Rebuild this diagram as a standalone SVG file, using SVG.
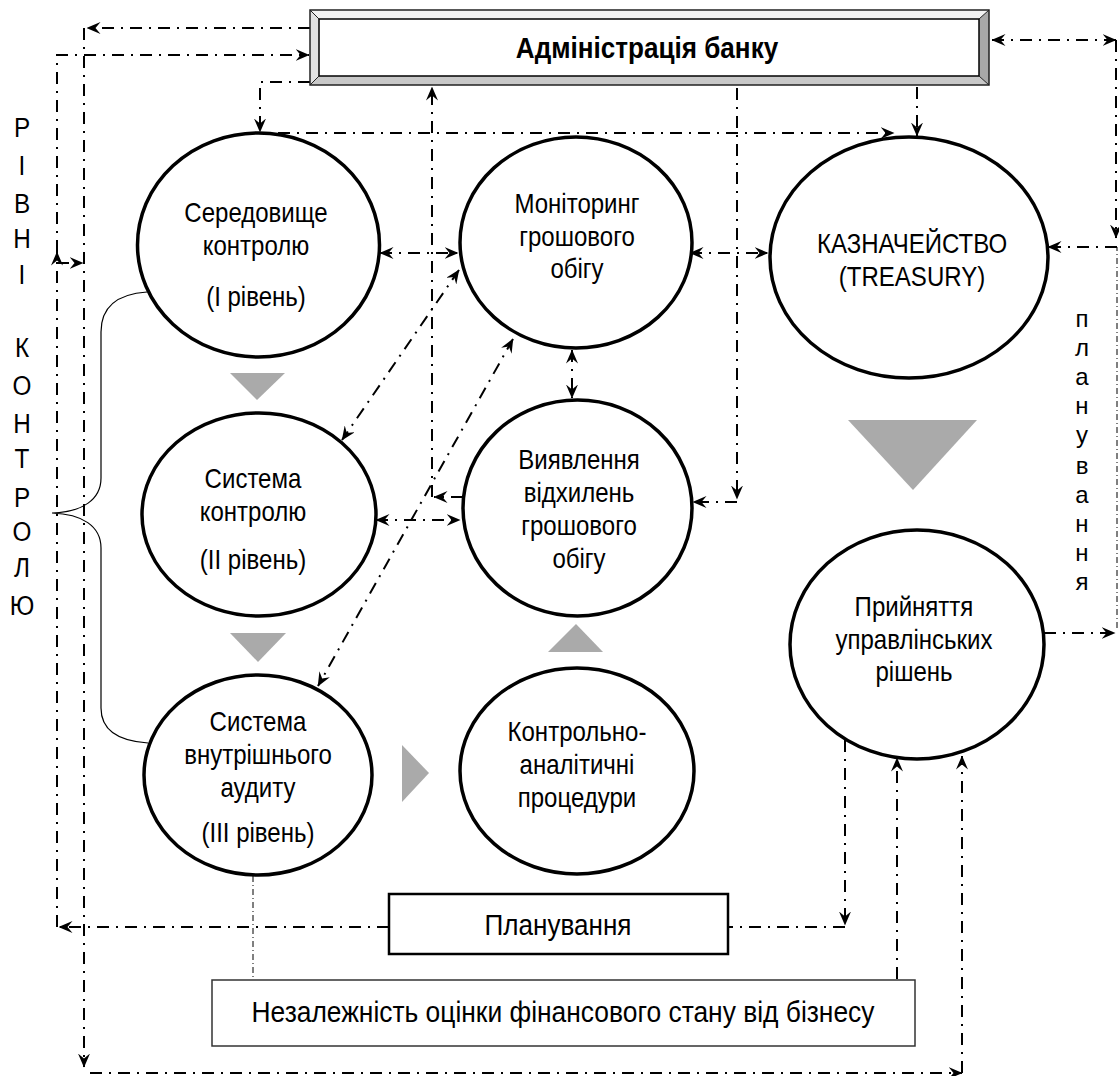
<svg xmlns="http://www.w3.org/2000/svg" width="1119" height="1076" viewBox="0 0 1119 1076">
<style>
.c{fill:#fff;stroke:#000;stroke-width:3.5}
.t{font-family:"Liberation Sans",Arial,sans-serif;font-size:27px;text-anchor:middle;fill:#000}
.v{font-family:"Liberation Sans",Arial,sans-serif;font-size:27px;text-anchor:middle;fill:#000}
.w{font-family:"Liberation Sans",Arial,sans-serif;font-size:24px;text-anchor:middle;fill:#000}
.l{fill:none;stroke:#000;stroke-width:2;stroke-dasharray:12 7 2 7}
.th{fill:none;stroke:#000;stroke-width:1;stroke-dasharray:6 3 1 3}
.tri{fill:#aaaaaa}
.br{fill:none;stroke:#000;stroke-width:1.2}
</style>
<defs>
<marker id="ah" viewBox="0 0 14 12" refX="13.5" refY="6" markerWidth="14" markerHeight="12" markerUnits="userSpaceOnUse" orient="auto-start-reverse">
<path d="M0,0 L14,6 L0,12 L5,6 z" fill="#000"/>
</marker>
</defs>
<rect width="1119" height="1076" fill="#fff"/>

<g id="labels-left" transform="matrix(0.9,0,0,1,2.2,0)">
<text class="v" x="22" y="137">Р</text>
<text class="v" x="22" y="175">І</text>
<text class="v" x="22" y="213">В</text>
<text class="v" x="22" y="248">Н</text>
<text class="v" x="22" y="284">І</text>
<text class="v" x="22" y="357">К</text>
<text class="v" x="22" y="395">О</text>
<text class="v" x="22" y="433">Н</text>
<text class="v" x="22" y="468">Т</text>
<text class="v" x="22" y="507">Р</text>
<text class="v" x="22" y="541">О</text>
<text class="v" x="22" y="577">Л</text>
<text class="v" x="22" y="615">Ю</text>
</g>
<g id="labels-right">
<text class="w" x="1082" y="327">п</text>
<text class="w" x="1082" y="356">л</text>
<text class="w" x="1082" y="385">а</text>
<text class="w" x="1082" y="414">н</text>
<text class="w" x="1082" y="443">у</text>
<text class="w" x="1082" y="474">в</text>
<text class="w" x="1082" y="503">а</text>
<text class="w" x="1082" y="532">н</text>
<text class="w" x="1082" y="561">н</text>
<text class="w" x="1082" y="590">я</text>
</g>

<g id="connectors">
<path class="l" d="M310,28 L87,28" marker-end="url(#ah)"/>
<path class="l" d="M84,28 L84,1067" marker-end="url(#ah)"/>
<path class="l" d="M90,1073 L962,1073" marker-end="url(#ah)"/>
<path class="l" d="M962,1073 L962,756" marker-end="url(#ah)"/>
<path class="l" d="M57,927 L57,252" marker-end="url(#ah)"/>
<path class="l" d="M57,252 L57,55 L309,55" marker-end="url(#ah)"/>
<path class="l" d="M57,263 L83,263" marker-end="url(#ah)"/>
<path class="l" d="M389,927 L59,927" marker-end="url(#ah)"/>
<path class="l" d="M310,82 L260,82 L260,132" marker-end="url(#ah)"/>
<path class="l" d="M278,133 L894,133" marker-end="url(#ah)"/>
<path class="l" d="M917,87 L917,136" marker-end="url(#ah)"/>
<path class="l" d="M737,88 L737,499" marker-end="url(#ah)"/>
<path class="l" d="M737,502 L693,502" marker-end="url(#ah)"/>
<path class="l" d="M463,497 L434,497" marker-end="url(#ah)"/>
<path class="l" d="M432,497 L432,87" marker-end="url(#ah)"/>
<path class="l" d="M380,253 L458,253" marker-start="url(#ah)" marker-end="url(#ah)"/>
<path class="l" d="M690,253 L768,253" marker-start="url(#ah)" marker-end="url(#ah)"/>
<path class="l" d="M376,520 L460,520" marker-start="url(#ah)" marker-end="url(#ah)"/>
<path class="l" d="M572,350 L572,398" marker-start="url(#ah)" marker-end="url(#ah)"/>
<path class="l" d="M459,270 L342,440" marker-start="url(#ah)" marker-end="url(#ah)"/>
<path class="l" d="M513,339 L318,686" marker-start="url(#ah)" marker-end="url(#ah)"/>
<path class="l" d="M992,40 L1116,40" marker-start="url(#ah)" marker-end="url(#ah)"/>
<path class="l" d="M1116,40 L1116,238" marker-end="url(#ah)"/>
<path class="th" d="M1117,628 L1117,247"/>
<path class="l" d="M1117,247 L1048,247" marker-end="url(#ah)"/>
<path class="l" d="M1044,633 L1115,633" marker-end="url(#ah)"/>
<path class="l" d="M845,740 L845,925" marker-end="url(#ah)"/>
<path class="l" d="M845,927 L728,927"/>
<path class="l" d="M897,979 L897,758" marker-end="url(#ah)"/>
<path class="th" d="M253,876 L253,980"/>
</g>

<g id="brace">
<path class="br" d="M147,292 C118,294 101,306 101,332 L101,478 C101,500 82,512 52,513 C82,514 101,526 101,548 L101,708 C101,730 118,741 148,743"/>
</g>

<g id="arrows-gray">
<polygon class="tri" points="230,373 285,373 257,400"/>
<polygon class="tri" points="230,633 286,633 258,662"/>
<polygon class="tri" points="402,745 402,802 429,773"/>
<polygon class="tri" points="548,652 603,652 576,624"/>
<polygon class="tri" points="848,420 977,420 913,490"/>
</g>

<g id="admin">
<polygon points="310,10 989,10 979,19 319,19" fill="#f2f2f2"/>
<polygon points="310,10 319,19 319,76 310,85" fill="#e2e2e2"/>
<polygon points="310,85 319,76 979,76 989,85" fill="#c8c8c8"/>
<polygon points="989,10 979,19 979,76 989,85" fill="#a8a8a8"/>
<rect x="310" y="10" width="679" height="75" fill="none" stroke="#222" stroke-width="1.5"/>
<rect x="319" y="19" width="660" height="57" fill="#fff" stroke="#000" stroke-width="1.5"/>
<line x1="310" y1="10" x2="319" y2="19" stroke="#222" stroke-width="1"/>
<line x1="310" y1="85" x2="319" y2="76" stroke="#222" stroke-width="1"/>
<line x1="989" y1="10" x2="979" y2="19" stroke="#222" stroke-width="1"/>
<line x1="989" y1="85" x2="979" y2="76" stroke="#222" stroke-width="1"/>
<text class="t" x="647" y="58" transform="matrix(0.9,0,0,1,64.7,0)" style="font-weight:bold;font-size:29px">Адміністрація банку</text>
</g>

<g id="seredovyshche">
<ellipse class="c" cx="258.5" cy="245" rx="121" ry="112"/>
<g transform="matrix(0.89,0,0,1,28.16,0)">
<text class="t" x="256" y="222">Середовище</text>
<text class="t" x="256" y="255">контролю</text>
<text class="t" x="256" y="306">(І рівень)</text>
</g>
</g>
<g id="systema-kontrolyu">
<ellipse class="c" cx="259" cy="514.5" rx="117" ry="101.5"/>
<g transform="matrix(0.89,0,0,1,27.83,0)">
<text class="t" x="253" y="488">Система</text>
<text class="t" x="253" y="521">контролю</text>
<text class="t" x="253" y="569">(ІІ рівень)</text>
</g>
</g>
<g id="audyt">
<ellipse class="c" cx="258" cy="775" rx="114" ry="100"/>
<g transform="matrix(0.89,0,0,1,28.38,0)">
<text class="t" x="258" y="731">Система</text>
<text class="t" x="258" y="764">внутрішнього</text>
<text class="t" x="258" y="797">аудиту</text>
<text class="t" x="258" y="842">(ІІІ рівень)</text>
</g>
</g>
<g id="monitoring">
<ellipse class="c" cx="576" cy="242.5" rx="116" ry="105.5"/>
<g transform="matrix(0.89,0,0,1,63.47,0)">
<text class="t" x="577" y="213">Моніторинг</text>
<text class="t" x="577" y="246">грошового</text>
<text class="t" x="577" y="278">обігу</text>
</g>
</g>
<g id="vyyavlennya">
<ellipse class="c" cx="577.5" cy="508" rx="114.5" ry="108"/>
<g transform="matrix(0.89,0,0,1,63.69,0)">
<text class="t" x="579" y="469">Виявлення</text>
<text class="t" x="579" y="502">відхилень</text>
<text class="t" x="579" y="535">грошового</text>
<text class="t" x="579" y="568">обігу</text>
</g>
</g>
<g id="kontrolno">
<ellipse class="c" cx="577" cy="771" rx="117" ry="103"/>
<g transform="matrix(0.89,0,0,1,63.47,0)">
<text class="t" x="577" y="741">Контрольно-</text>
<text class="t" x="577" y="774">аналітичні</text>
<text class="t" x="577" y="807">процедури</text>
</g>
</g>
<g id="kaznacheystvo">
<ellipse class="c" cx="909" cy="257.5" rx="139" ry="120.5"/>
<g transform="matrix(0.89,0,0,1,100.32,0)">
<text class="t" x="912" y="253">КАЗНАЧЕЙСТВО</text>
<text class="t" x="912" y="286">(TREASURY)</text>
</g>
</g>
<g id="pryynyattya">
<ellipse class="c" cx="917" cy="644.5" rx="127" ry="114.5"/>
<g transform="matrix(0.89,0,0,1,100.54,0)">
<text class="t" x="914" y="616">Прийняття</text>
<text class="t" x="914" y="649">управлінських</text>
<text class="t" x="914" y="681">рішень</text>
</g>
</g>
<g id="planuvannya">
<rect x="389" y="894" width="339" height="60" fill="#fff" stroke="#000" stroke-width="2.5"/>
<text class="t" x="558" y="935" transform="matrix(0.9,0,0,1,55.8,0)" style="font-size:29px">Планування</text>
</g>
<g id="nezalezhnist">
<rect x="212" y="980" width="703" height="66" fill="#fff" stroke="#333" stroke-width="1.5"/>
<text class="t" x="563" y="1022" transform="matrix(0.91,0,0,1,50.67,0)" style="font-size:29px">Незалежність оцінки фінансового стану від бізнесу</text>
</g>
</svg>
